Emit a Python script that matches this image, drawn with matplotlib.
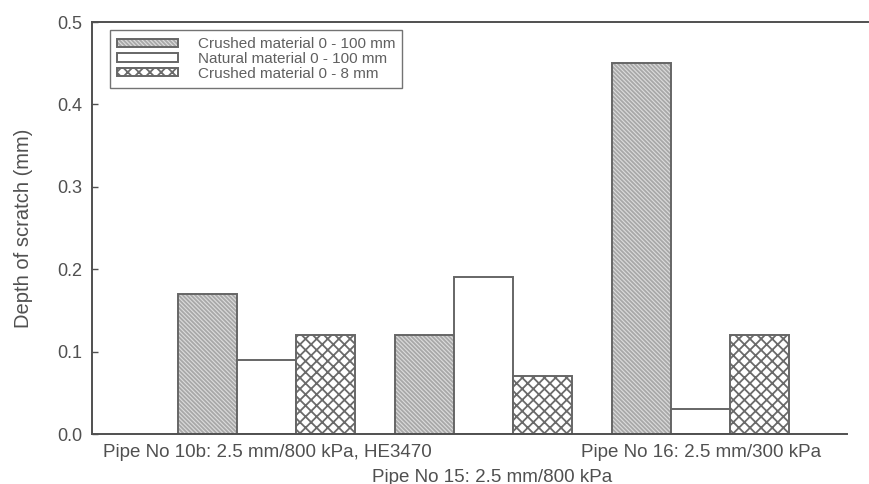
import numpy as np
import matplotlib
matplotlib.use('Agg')
import matplotlib.pyplot as plt
from matplotlib.legend_handler import HandlerTuple

plt.rcParams['font.family'] = ['Liberation Sans', 'DejaVu Sans']
plt.rcParams['hatch.linewidth'] = 1.3

pipes = ['Pipe No 10b: 2.5 mm/800 kPa, HE3470',
         'Pipe No 15: 2.5 mm/800 kPa',
         'Pipe No 16: 2.5 mm/300 kPa']
crushed_100 = [0.17, 0.12, 0.45]
natural_100 = [0.09, 0.19, 0.03]
crushed_8 = [0.12, 0.07, 0.12]
series_names = ['Crushed material 0 - 100 mm',
                'Natural material 0 - 100 mm',
                'Crushed material 0 - 8 mm']

ink = '#505050'
edge = '#666666'
x = np.arange(len(pipes))
w = 0.272

fig = plt.figure(figsize=(8.69, 4.84), dpi=100)
ax = fig.add_axes([0.1059, 0.1033, 0.8929, 0.8512])

# hatch layer first (own colour), then the outline on top
h1 = ax.bar(x - w, crushed_100, w, color='#dcdcdc', edgecolor='#a8a8a8',
            hatch='\\' * 8, linewidth=0)
o1 = ax.bar(x - w, crushed_100, w, fill=False, edgecolor=edge, linewidth=1.4)
h2 = ax.bar(x, natural_100, w, color='white', linewidth=0)
o2 = ax.bar(x, natural_100, w, fill=False, edgecolor=edge, linewidth=1.4)
h3 = ax.bar(x + w, crushed_8, w, color='white', edgecolor='#6a6a6a',
            hatch='xxx', linewidth=0)
o3 = ax.bar(x + w, crushed_8, w, fill=False, edgecolor=edge, linewidth=1.4)

ax.set_xlim(-0.806, 2.770)
ax.set_ylim(0, 0.5)
ax.set_yticks([0.0, 0.1, 0.2, 0.3, 0.4, 0.5])
ax.set_yticklabels(['0.0', '0.1', '0.2', '0.3', '0.4', '0.5'])

# outer pipes on the tick row, the middle one on a second row below
ax.set_xticks(x)
ax.set_xticklabels([pipes[0], '', pipes[2]])
ax.annotate(pipes[1], xy=(x[1], 0), xycoords=('data', 'axes fraction'),
            xytext=(6, -25), textcoords='offset points',
            ha='center', va='top', fontsize=13.5, color=ink)

ax.tick_params(axis='y', direction='in', length=4, width=1, color=ink,
               labelsize=13, labelcolor=ink, pad=7)
ax.tick_params(axis='x', length=0, labelsize=13.5, labelcolor=ink, pad=7)

ax.set_ylabel('Depth of scratch (mm)', fontsize=14.5, color=ink)
ax.yaxis.set_label_coords(-0.076, 0.5)

for side in ['left', 'bottom', 'top']:
    ax.spines[side].set_color(ink)
    ax.spines[side].set_linewidth(1.4)
ax.spines['right'].set_visible(False)
ax.spines['bottom'].set_bounds(-0.806, 2.673)

leg = ax.legend([(h1, o1), (h2, o2), (h3, o3)], series_names,
                handler_map={tuple: HandlerTuple(ndivide=1)},
                loc='upper left', bbox_to_anchor=(0.023, 0.98),
                fontsize=11, frameon=True, fancybox=False,
                handlelength=4.0, handleheight=0.45, handletextpad=1.3,
                labelspacing=0.05, borderpad=0.45, borderaxespad=0)
leg.get_frame().set_edgecolor(ink)
leg.get_frame().set_linewidth(1.0)
for t in leg.get_texts():
    t.set_color('#606060')

fig.savefig('out.png', dpi=100)
